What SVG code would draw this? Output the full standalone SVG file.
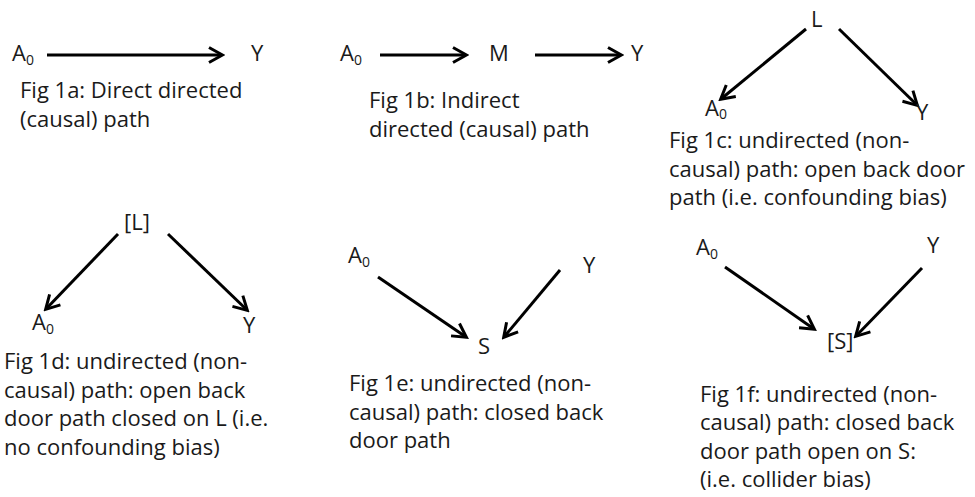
<svg xmlns="http://www.w3.org/2000/svg" width="975" height="497" viewBox="0 0 975 497">
  <style>
    text { font-family: "Open Sans", "Noto Sans", "Liberation Sans", sans-serif; fill: #1a1a1a; }
    .node { font-size: 22px; }
    .sub { font-size: 14px; }
    .cap { font-size: 22px; }
    .edge { stroke: #000; stroke-width: 3; fill: none; marker-end: url(#arrow); }
  </style>
  <defs>
    <!-- open chevron arrowhead -->
    <marker id="arrow" markerUnits="userSpaceOnUse" viewBox="0 0 18 18" markerWidth="18" markerHeight="18" refX="15" refY="9" orient="auto">
      <path d="M2,1.5 L15.5,9 L2,16.5" fill="none" stroke="#000" stroke-width="3" stroke-linejoin="miter"/>
    </marker>
  </defs>
  <rect width="975" height="497" fill="#fff"/>

  <!-- connectors -->
  <g id="connectors">
    <!-- 1a -->
    <line class="edge" x1="47" y1="55" x2="222" y2="55"/>
    <!-- 1b -->
    <line class="edge" x1="380" y1="55" x2="466" y2="55"/>
    <line class="edge" x1="535" y1="55" x2="621" y2="55"/>
    <!-- 1c -->
    <line class="edge" x1="806" y1="29" x2="721" y2="99"/>
    <line class="edge" x1="839" y1="29" x2="917" y2="105"/>
    <!-- 1d -->
    <line class="edge" x1="118" y1="234" x2="46" y2="309"/>
    <line class="edge" x1="168" y1="234" x2="247" y2="310"/>
    <!-- 1e -->
    <line class="edge" x1="378" y1="277" x2="466" y2="337"/>
    <line class="edge" x1="560" y1="270" x2="504" y2="337"/>
    <!-- 1f -->
    <line class="edge" x1="725" y1="267" x2="814" y2="329"/>
    <line class="edge" x1="922" y1="268" x2="856" y2="336"/>
  </g>

  <!-- Fig 1a -->
  <g id="fig1a-A0"><text class="node" x="12" y="61">A<tspan class="sub" dy="4">0</tspan></text></g>
  <g id="fig1a-Y"><text class="node" x="251" y="61">Y</text></g>
  <g id="fig1a-caption"><text class="cap" x="20" y="98">Fig 1a: Direct directed<tspan x="20" y="127">(causal) path</tspan></text></g>

  <!-- Fig 1b -->
  <g id="fig1b-A0"><text class="node" x="340" y="61">A<tspan class="sub" dy="4">0</tspan></text></g>
  <g id="fig1b-M"><text class="node" x="489" y="61">M</text></g>
  <g id="fig1b-Y"><text class="node" x="631" y="61">Y</text></g>
  <g id="fig1b-caption"><text class="cap" x="369" y="108">Fig 1b: Indirect<tspan x="369" y="136.5">directed (causal) path</tspan></text></g>

  <!-- Fig 1c -->
  <g id="fig1c-L"><text class="node" x="811" y="27">L</text></g>
  <g id="fig1c-A0"><text class="node" x="705" y="116">A<tspan class="sub" dy="3">0</tspan></text></g>
  <g id="fig1c-Y"><text class="node" x="916" y="120">Y</text></g>
  <g id="fig1c-caption"><text class="cap" x="669" y="148">Fig 1c: undirected (non-<tspan x="669" y="176.5">causal) path: open back door</tspan><tspan x="669" y="205">path (i.e. confounding bias)</tspan></text></g>

  <!-- Fig 1d -->
  <g id="fig1d-L"><text class="node" x="124" y="230">[L]</text></g>
  <g id="fig1d-A0"><text class="node" x="32" y="330">A<tspan class="sub" dy="4">0</tspan></text></g>
  <g id="fig1d-Y"><text class="node" x="243" y="333">Y</text></g>
  <g id="fig1d-caption"><text class="cap" x="4" y="369">Fig 1d: undirected (non-<tspan x="4" y="397.5">causal) path: open back</tspan><tspan x="4" y="426">door path closed on L (i.e.</tspan><tspan x="4" y="454.5">no confounding bias)</tspan></text></g>

  <!-- Fig 1e -->
  <g id="fig1e-A0"><text class="node" x="348" y="263">A<tspan class="sub" dy="4">0</tspan></text></g>
  <g id="fig1e-Y"><text class="node" x="583" y="273">Y</text></g>
  <g id="fig1e-S"><text class="node" x="478" y="354">S</text></g>
  <g id="fig1e-caption"><text class="cap" x="349" y="391">Fig 1e: undirected (non-<tspan x="349" y="419.5">causal) path: closed back</tspan><tspan x="349" y="448">door path</tspan></text></g>

  <!-- Fig 1f -->
  <g id="fig1f-A0"><text class="node" x="696" y="255">A<tspan class="sub" dy="4">0</tspan></text></g>
  <g id="fig1f-Y"><text class="node" x="927" y="253">Y</text></g>
  <g id="fig1f-S"><text class="node" x="827" y="349">[S]</text></g>
  <g id="fig1f-caption"><text class="cap" x="700" y="402">Fig 1f: undirected (non-<tspan x="700" y="430">causal) path: closed back</tspan><tspan x="700" y="458.5">door path open on S:</tspan><tspan x="700" y="487">(i.e. collider bias)</tspan></text></g>
</svg>
